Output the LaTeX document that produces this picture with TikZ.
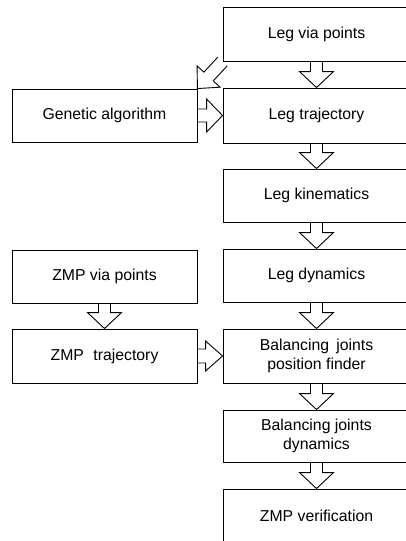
\documentclass[tikz,border=0pt]{standalone}
\usepackage{fontspec}
\setmainfont{Liberation Sans}
\usetikzlibrary{calc}
\tikzset{
  box/.style={draw, line width=0.9pt, inner sep=0pt, align=center,
    font=\fontsize{15.8}{19}\selectfont},
  rbox/.style={box, minimum width=187pt},
  lbox/.style={box, minimum width=185pt},
  blk/.style={draw, line width=0.9pt, line join=miter}
}
% #1 tail, #2 tip, #3 shaft half width, #4 head half width, #5 head length
\newcommand{\blkarrow}[5]{%
  \coordinate (ba) at ($(#2)!#5pt!(#1)$);
  \draw[blk] ($(#1)!#3pt!90:(#2)$) -- ($(ba)!#3pt!90:(#2)$) -- ($(ba)!#4pt!90:(#2)$)
    -- (#2) -- ($(ba)!#4pt!-90:(#2)$) -- ($(ba)!#3pt!-90:(#2)$) -- ($(#1)!#3pt!-90:(#2)$);
}
\begin{document}
\begin{tikzpicture}[x=1pt,y=-1pt]
\useasboundingbox (0,0) rectangle (406,541);
\clip (0,0) rectangle (406,541);
% right column
\node[rbox, minimum height=54pt] (R1) at (316.5,34) {Leg via points};
\node[rbox, minimum height=55pt] (R2) at (316.5,115.5) {Leg trajectory};
\node[rbox, minimum height=53pt] (R3) at (316.5,195.5) {Leg kinematics};
\node[rbox, minimum height=53pt] (R4) at (316.5,275.5) {Leg dynamics};
\node[rbox, minimum height=54pt] (R5) at (316.5,356) {Balancing\hspace{0.45em}joints\\position finder};
\node[rbox, minimum height=52pt] (R6) at (316.5,436) {Balancing joints\\dynamics};
\node[rbox, minimum height=80pt] (R7) at (316.5,529) {};
\node[font=\fontsize{15.8}{19}\selectfont] (R7t) at (316.5,516) {ZMP verification};
% left column
\node[lbox, minimum height=53pt] (L1) at (104.5,115.5) {Genetic algorithm};
\node[lbox, minimum height=53pt] (L2) at (104.5,276.5) {ZMP via points};
\node[lbox, minimum height=54pt] (L3) at (104.5,356) {ZMP\hspace{0.6em}trajectory};
% block arrows
\blkarrow{R1.south}{R2.north}{6}{17}{16}
\blkarrow{R2.south}{R3.north}{6}{17}{16}
\blkarrow{R3.south}{R4.north}{6}{17}{16}
\blkarrow{R4.south}{R5.north}{6}{17}{16}
\blkarrow{R5.south}{R6.north}{6}{17}{16}
\blkarrow{R6.south}{R7.north}{6}{17}{16}
\blkarrow{L2.south}{L3.north}{6}{17}{16}
\blkarrow{L1.east}{R2.west}{6.5}{16.5}{16}
\blkarrow{L3.east}{R5.west}{7}{15}{17}
\blkarrow{R1.south west}{L1.north east}{6.4}{15.7}{16.4}
\end{tikzpicture}
\end{document}
